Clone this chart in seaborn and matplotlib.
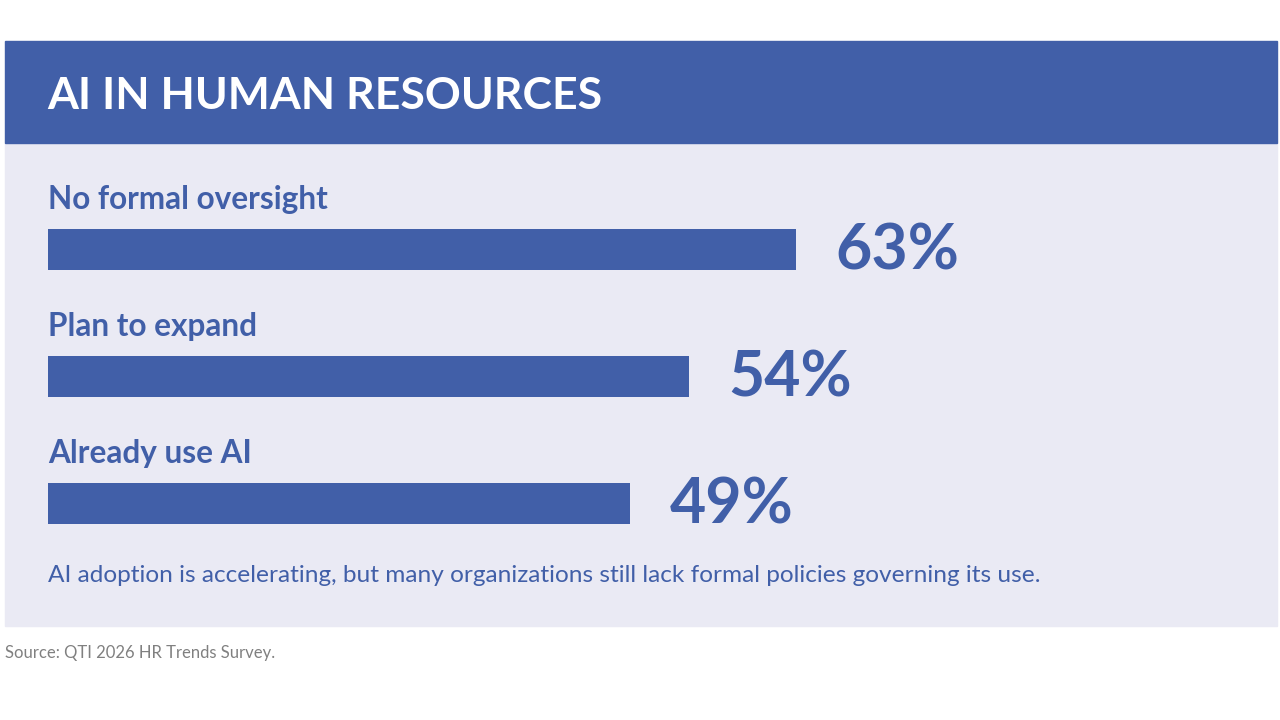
import matplotlib
matplotlib.use("Agg")
import matplotlib.pyplot as plt
import seaborn as sns
import pandas as pd
from matplotlib.patches import Rectangle

# Data
categories = ["No formal oversight", "Plan to expand", "Already use AI"]
values = [63, 54, 49]
title = "AI IN HUMAN RESOURCES"
note = "AI adoption is accelerating, but many organizations still lack formal policies governing its use."
source = "Source: QTI 2026 HR Trends Survey."

blue = "#415FA8"
panel_bg = "#EAEAF4"

sns.set_theme(style="white")
plt.rcParams["font.family"] = ["Lato", "DejaVu Sans"]

df = pd.DataFrame({"category": categories, "value": values})

fig = plt.figure(figsize=(12.8, 7.2), dpi=100)
W, H = 1280, 720

# header band and panel
fig.patches.append(Rectangle((5 / W, 1 - 626 / H), 1272 / W, (626 - 143) / H,
                             transform=fig.transFigure, color=panel_bg, zorder=-2))
fig.patches.append(Rectangle((5 / W, 1 - 143 / H), 1272 / W, (143 - 41) / H,
                             transform=fig.transFigure, color=blue, zorder=-2))
fig.text(47 / W, 1 - 96 / H, title, color="white", fontsize=32, fontweight="bold",
         va="center", ha="left")

# bar axes
ax = fig.add_axes([48 / W, 1 - 567 / H, 1187 / W, 381 / H])
sns.barplot(data=df, x="value", y="category", color=blue, width=0.323,
            saturation=1, linewidth=0, ax=ax)
ax.set_xlim(0, 100)
ax.set_ylim(2.5, -0.5)
ax.set_facecolor("none")
ax.axis("off")

for i, (cat, val) in enumerate(zip(categories, values)):
    ax.text(0, i - 0.32, cat, color=blue, fontsize=22.7, fontweight="bold",
            va="baseline", ha="left")
    ax.text(val + 3.35, i + 0.161, f"{val}%", color=blue, fontsize=45,
            fontweight="bold", va="baseline", ha="left")

fig.text(48 / W, 1 - 576 / H, note, color=blue, fontsize=17.6, va="center", ha="left")
fig.text(5 / W, 1 - 653 / H, source, color="#808080", fontsize=12, va="center", ha="left")

fig.savefig("out.png", dpi=100, facecolor="white")
